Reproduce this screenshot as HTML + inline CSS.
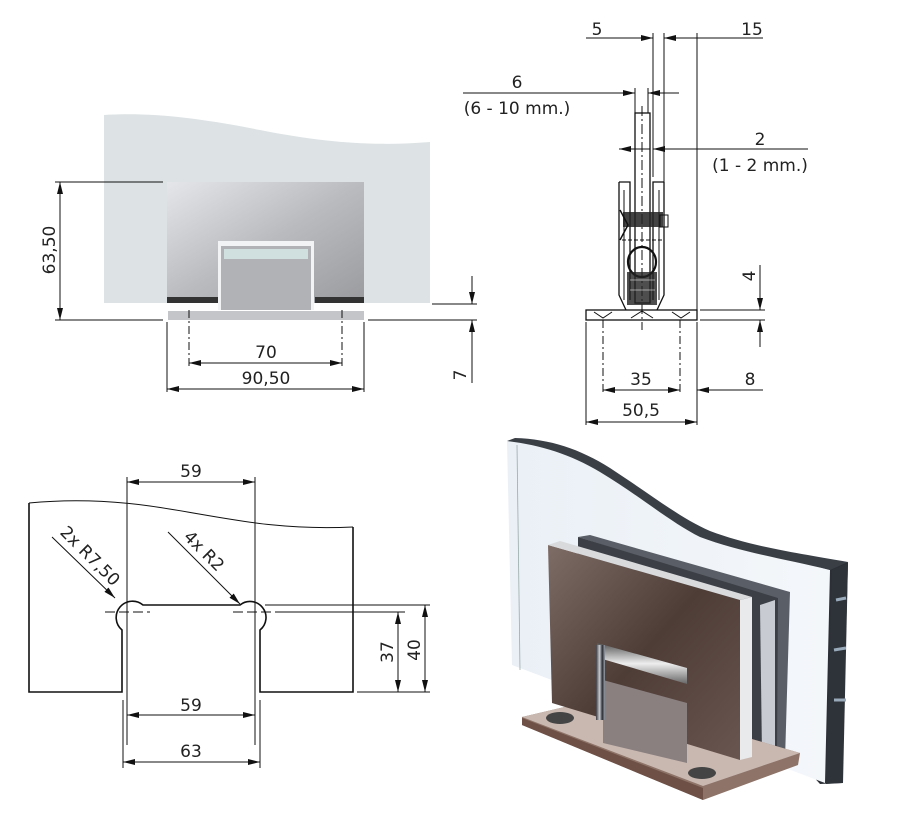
<!DOCTYPE html>
<html><head><meta charset="utf-8"><style>
html,body{margin:0;padding:0;background:#fff;width:907px;height:816px;overflow:hidden}
svg{display:block}
text{font-family:"DejaVu Sans","Liberation Sans",sans-serif;font-size:17px;fill:#222}
</style></head><body>
<svg width="907" height="816" viewBox="0 0 907 816" xmlns="http://www.w3.org/2000/svg">
<defs>
<marker id="a" viewBox="0 0 12 6" refX="12" refY="3" markerWidth="12" markerHeight="6" orient="auto-start-reverse" markerUnits="userSpaceOnUse"><path d="M0,0 L12,3 L0,6 Z" fill="#111"/></marker>
<linearGradient id="plate" x1="0" y1="0" x2="1" y2="1"><stop offset="0" stop-color="#e4e6ea"/><stop offset="0.5" stop-color="#b9bbbf"/><stop offset="1" stop-color="#9a9b9e"/></linearGradient>
<linearGradient id="brown" x1="0" y1="0" x2="1" y2="1"><stop offset="0" stop-color="#7e6c66"/><stop offset="0.5" stop-color="#4e3c36"/><stop offset="1" stop-color="#6a5650"/></linearGradient>
<linearGradient id="glass3" x1="0" y1="0" x2="1" y2="0"><stop offset="0" stop-color="#eaf0f6"/><stop offset="1" stop-color="#f4f7fa"/></linearGradient>
<linearGradient id="chrome" x1="0" y1="0" x2="1" y2="0"><stop offset="0" stop-color="#3b3b40"/><stop offset="0.4" stop-color="#c9ccd2"/><stop offset="0.7" stop-color="#2e3036"/><stop offset="1" stop-color="#9aa0a8"/></linearGradient>
<linearGradient id="bar" x1="0" y1="0" x2="0" y2="1"><stop offset="0" stop-color="#555"/><stop offset="0.5" stop-color="#eee"/><stop offset="1" stop-color="#666"/></linearGradient>
</defs>
<g stroke="#111" stroke-width="1" fill="none">

<!-- ============ TOP LEFT ============ -->
<path d="M104,115 C150,112 200,118 260,130 C330,144 380,146 430,142 L430,303 L104,303 Z" fill="#dde2e4" stroke="none"/>
<rect x="167" y="182" width="197" height="121" fill="url(#plate)" stroke="none"/>
<rect x="167" y="297" width="51" height="6" fill="#333" stroke="none"/>
<rect x="315" y="297" width="49" height="6" fill="#333" stroke="none"/>
<rect x="218" y="241" width="96" height="69" fill="#f2f3f4" stroke="none"/>
<rect x="221" y="246" width="90" height="64" fill="#b0b2b6" stroke="none"/>
<rect x="224" y="249" width="84" height="10" fill="#cfe0df" stroke="none"/>
<rect x="168" y="311" width="196" height="9" fill="#c4c5c8" stroke="none"/>
<line x1="55" y1="182" x2="163" y2="182"/>
<line x1="55" y1="320" x2="163" y2="320"/>
<line x1="368" y1="320" x2="477" y2="320"/>
<line x1="432" y1="304" x2="477" y2="304"/>
<line x1="60" y1="182" x2="60" y2="320" marker-start="url(#a)" marker-end="url(#a)"/>
<line x1="167" y1="322" x2="167" y2="392"/>
<line x1="364" y1="322" x2="364" y2="392"/>
<line x1="189" y1="310" x2="189" y2="367" stroke-dasharray="8,3,2,3"/>
<line x1="342" y1="310" x2="342" y2="367" stroke-dasharray="8,3,2,3"/>
<line x1="189" y1="363" x2="342" y2="363" marker-start="url(#a)" marker-end="url(#a)"/>
<line x1="167" y1="389" x2="364" y2="389" marker-start="url(#a)" marker-end="url(#a)"/>
<line x1="472" y1="276" x2="472" y2="304" marker-end="url(#a)"/>
<line x1="472" y1="383" x2="472" y2="320" marker-end="url(#a)"/>

<!-- ============ TOP RIGHT ============ -->
<line x1="586" y1="38" x2="653" y2="38" marker-end="url(#a)"/>
<line x1="763" y1="38" x2="664" y2="38" marker-end="url(#a)"/>
<line x1="653" y1="33" x2="653" y2="177"/>
<line x1="664" y1="33" x2="664" y2="182"/>
<line x1="697" y1="33" x2="697" y2="310"/>
<line x1="463" y1="93" x2="635" y2="93" marker-end="url(#a)"/>
<line x1="679" y1="93" x2="648" y2="93" marker-end="url(#a)"/>
<line x1="635" y1="88" x2="635" y2="113"/>
<line x1="648" y1="88" x2="648" y2="113"/>
<line x1="619" y1="149" x2="650" y2="149" marker-start="url(#a)"/>
<line x1="808" y1="149" x2="653" y2="149" marker-end="url(#a)"/>
<rect x="635" y="113" width="15" height="190" stroke-width="1.3"/>
<line x1="642" y1="106" x2="642" y2="330" stroke-dasharray="10,3,2,3"/>
<path d="M619,182 L630,182 L630,300 M664,182 L653,182 L653,300 M619,182 L619,295 L626,310 M664,182 L664,295 L657,310" stroke-width="1.3"/>
<path d="M624,190 L624,300 M659,190 L659,300" />
<rect x="623" y="212" width="40" height="15" fill="#222" stroke="none" opacity="0.85"/>
<path d="M620,210 L628,225 L620,240" stroke-width="1.5"/>
<rect x="660" y="215" width="8" height="12"/>
<line x1="622" y1="240" x2="662" y2="240" stroke-dasharray="4,2"/>
<ellipse cx="642" cy="262" rx="14" ry="15" stroke-width="2.2"/>
<rect x="627" y="272" width="30" height="33" fill="#222" stroke="none" opacity="0.8"/>
<line x1="630" y1="280" x2="655" y2="280" stroke="#fff" stroke-width="0.6"/>
<line x1="630" y1="290" x2="655" y2="290" stroke="#fff" stroke-width="0.6"/>
<rect x="586" y="310" width="111" height="10" stroke-width="1.3"/>
<path d="M594,312 L603,318 L612,312 M672,312 L681,318 L690,312 M631,318 L642,311 L653,318" stroke-width="1"/>
<line x1="700" y1="310" x2="765" y2="310"/>
<line x1="700" y1="320" x2="765" y2="320"/>
<line x1="760" y1="265" x2="760" y2="310" marker-end="url(#a)"/>
<line x1="760" y1="347" x2="760" y2="320" marker-end="url(#a)"/>
<line x1="586" y1="322" x2="586" y2="425"/>
<line x1="697" y1="322" x2="697" y2="425"/>
<line x1="603" y1="320" x2="603" y2="395" stroke-dasharray="8,3,2,3"/>
<line x1="680" y1="320" x2="680" y2="395" stroke-dasharray="8,3,2,3"/>
<line x1="603" y1="390" x2="680" y2="390" marker-start="url(#a)" marker-end="url(#a)"/>
<line x1="763" y1="390" x2="697" y2="390" marker-end="url(#a)"/>
<line x1="586" y1="422" x2="697" y2="422" marker-start="url(#a)" marker-end="url(#a)"/>

<!-- ============ BOTTOM LEFT ============ -->
<path d="M29,503 C60,500 100,499 150,506 C220,516 270,531 353,527" />
<path d="M29,503 L29,692 L122,692 L122,630 A16,16 0 1 1 143,605 L240,605 A16,16 0 1 1 260,630 L260,692 L353,692 L353,527" stroke-width="1.6"/>
<line x1="127" y1="477" x2="127" y2="745"/>
<line x1="255" y1="477" x2="255" y2="745"/>
<line x1="123" y1="700" x2="123" y2="768"/>
<line x1="260" y1="700" x2="260" y2="768"/>
<line x1="105" y1="612" x2="150" y2="612" stroke-dasharray="10,4"/>
<line x1="233" y1="612" x2="283" y2="612" stroke-dasharray="10,4"/>
<line x1="283" y1="612" x2="405" y2="612"/>
<line x1="265" y1="605" x2="430" y2="605"/>
<line x1="357" y1="692" x2="430" y2="692"/>
<line x1="127" y1="482" x2="255" y2="482" marker-start="url(#a)" marker-end="url(#a)"/>
<line x1="127" y1="715" x2="255" y2="715" marker-start="url(#a)" marker-end="url(#a)"/>
<line x1="123" y1="762" x2="260" y2="762" marker-start="url(#a)" marker-end="url(#a)"/>
<line x1="398" y1="612" x2="398" y2="692" marker-start="url(#a)" marker-end="url(#a)"/>
<line x1="425" y1="605" x2="425" y2="692" marker-start="url(#a)" marker-end="url(#a)"/>
<line x1="52" y1="537" x2="115" y2="598" marker-end="url(#a)"/>
<line x1="168" y1="532" x2="240" y2="604" marker-end="url(#a)"/>
</g>
<text transform="translate(55,250) rotate(-90)" text-anchor="middle">63,50</text>
<text x="266" y="358" text-anchor="middle">70</text>
<text x="266" y="384" text-anchor="middle">90,50</text>
<text transform="translate(466,375) rotate(-90)" text-anchor="middle">7</text>
<text x="597" y="35" text-anchor="middle">5</text>
<text x="752" y="35" text-anchor="middle">15</text>
<text x="517" y="88" text-anchor="middle">6</text>
<text x="517" y="114" text-anchor="middle">(6 - 10 mm.)</text>
<text x="760" y="145" text-anchor="middle">2</text>
<text x="760" y="171" text-anchor="middle">(1 - 2 mm.)</text>
<text transform="translate(755,276) rotate(-90)" text-anchor="middle">4</text>
<text x="641" y="385" text-anchor="middle">35</text>
<text x="750" y="385" text-anchor="middle">8</text>
<text x="641" y="416" text-anchor="middle">50,5</text>
<text x="191" y="477" text-anchor="middle">59</text>
<text x="191" y="711" text-anchor="middle">59</text>
<text x="191" y="757" text-anchor="middle">63</text>
<text transform="translate(393,652) rotate(-90)" text-anchor="middle">37</text>
<text transform="translate(420,650) rotate(-90)" text-anchor="middle">40</text>
<text transform="translate(86,560) rotate(45)" text-anchor="middle">2x R7,50</text>
<text transform="translate(200,555) rotate(45)" text-anchor="middle">4x R2</text>

<!-- ============ 3D RENDER ============ -->
<path d="M507,441 C540,443 570,452 600,470 C640,494 670,520 700,535 C740,552 780,556 830,566 L848,562 L842,783 L820,784 Z" fill="#2c3036"/>
<path d="M507,441 C540,443 570,452 600,470 C640,494 670,520 700,535 C740,552 780,556 830,570 L825,783 L512,665 Z" fill="url(#glass3)"/>
<path d="M515,438 C550,439 580,449 610,468 C650,494 680,518 710,531 C750,546 790,552 848,562 L830,570 C780,558 740,552 700,537 C670,522 640,496 600,472 C570,454 540,445 507,441 Z" fill="#3a3f46"/>
<path d="M832,570 L848,563 L843,783 L826,784 Z" fill="#2e3339"/>
<path d="M836,600 L846,598 M834,650 L846,648 M834,700 L846,700" stroke="#9ab" stroke-width="3"/>
<line x1="517" y1="445" x2="520" y2="670" stroke="#9aa" stroke-width="0.8"/>
<path d="M578,537 L590,535 L790,592 L785,760 L775,762 L777,600 Z" fill="#5a5e66"/>
<path d="M578,537 L778,598 L777,757 L740,745 L740,610 L578,560 Z" fill="#3c3f46"/>
<path d="M760,605 L775,600 L775,758 L762,755 Z" fill="#c8ccd2"/>
<path d="M522,717 L607,697 L800,753 L798,765 L703,800 L522,725 Z" fill="#8d7368"/>
<path d="M522,717 L607,697 L800,753 L703,786 Z" fill="#c9b8b0"/>
<path d="M522,725 L703,800 L703,788 L522,718 Z" fill="#6e5046"/>
<ellipse cx="560" cy="718" rx="14" ry="6" fill="#444"/>
<ellipse cx="702" cy="773" rx="14" ry="6" fill="#444"/>
<path d="M548,545 L740,600 L740,760 L552,703 Z" fill="url(#brown)"/>
<path d="M548,545 L560,541 L752,597 L740,600 Z" fill="#d8dadc"/>
<path d="M740,600 L752,597 L752,757 L740,760 Z" fill="#e8eaec"/>
<path d="M603,680 L687,703 L687,763 L603,743 Z" fill="#8a8080"/>
<path d="M597,643 L687,668 L687,684 L599,658 Z" fill="url(#bar)"/>
<rect x="596" y="645" width="9" height="75" fill="url(#chrome)"/>
</svg>
</body></html>
